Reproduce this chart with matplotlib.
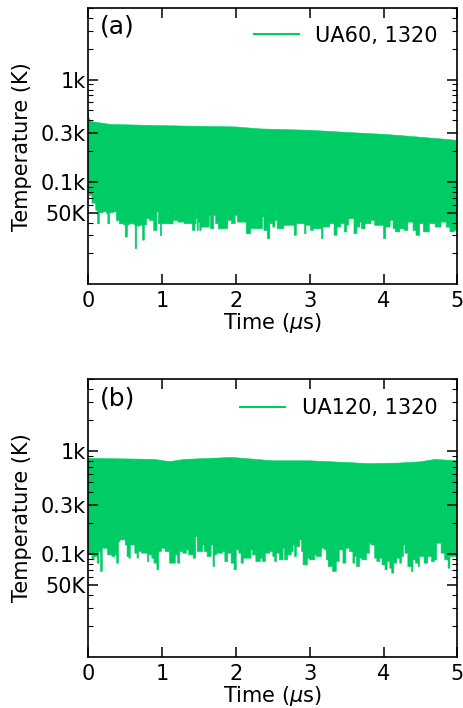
import numpy as np
import matplotlib
matplotlib.use("Agg")
import matplotlib.pyplot as plt
from matplotlib.lines import Line2D
from matplotlib.ticker import FixedLocator, LogLocator, NullFormatter

GREEN = "#00cc66"

# ---- Panel (a): UA60, 1320 ----
a_up_t = [0.0, 0.01, 0.03, 0.3, 1.0, 2.0, 2.33, 3.0, 3.5, 4.0, 4.23, 4.76, 5.0]
a_up_T = [480, 420, 390, 365, 355, 345, 330, 320, 305, 292, 284, 264, 255]
a_lo_t = [0.0, 0.014, 0.05, 0.10, 0.125, 0.15, 0.20, 0.25, 0.265, 0.29, 0.34, 0.38, 0.42,
          0.48, 0.50, 0.53, 0.555, 0.62, 0.635, 0.655, 0.69, 0.735, 0.76, 0.79, 0.83,
          0.885, 0.93, 0.95, 0.975, 0.995, 1.05, 1.15, 1.215, 1.30, 1.41, 1.445, 1.46,
          1.475, 1.49, 1.51, 1.53, 1.64, 1.655, 1.70, 1.725, 1.76, 1.89, 1.94, 1.99,
          2.02, 2.14, 2.20, 2.29, 2.36, 2.38, 2.425, 2.46, 2.50, 2.53, 2.56, 2.65, 2.79,
          2.82, 2.93, 2.95, 3.01, 3.05, 3.16, 3.18, 3.27, 3.33, 3.37, 3.42, 3.47, 3.50,
          3.53, 3.60, 3.64, 3.68, 3.70, 3.75, 3.83, 3.88, 4.00, 4.03, 4.09, 4.13, 4.16,
          4.22, 4.28, 4.33, 4.40, 4.44, 4.49, 4.54, 4.62, 4.70, 4.78, 4.85, 4.90, 4.96,
          5.0]
a_lo_T = [80, 74, 62, 53, 39, 50, 51, 49, 39, 50, 51, 42, 39,
          38, 29, 38, 39, 38, 22.3, 37, 37.7, 27, 38, 43.7, 42,
          33.6, 50.8, 39, 30, 39, 39, 42, 40.5, 39.1, 33.6, 39, 43.7,
          33.6, 40, 33.6, 36.2, 47.1, 34.9, 47.1, 39.1, 34.9, 42.1, 39.1, 47.1,
          40.5, 31.2, 35, 34.9, 45.4, 33.6, 27.9, 39.1, 36.2, 42.1, 34.9, 37.7, 30.1,
          39.1, 31.2, 37.7, 33.6, 34.9, 27.9, 36.2, 39.1, 30.1, 36.2, 39.1, 32.5, 38,
          43.7, 31.2, 36.2, 40.5, 34.9, 39.1, 42.1, 37.7, 27.9, 36.2, 42.1, 34.9, 32.5,
          34.9, 33.6, 40.5, 33.6, 30.1, 39.1, 32.5, 39.1, 36.2, 40.5, 36.2, 32.5, 33.6,
          33.6]

# ---- Panel (b): UA120, 1320 ----
b_up_t = [0.0, 0.5, 0.9, 1.1, 1.3, 1.95, 2.5, 3.0, 3.5, 3.8, 4.2, 4.5, 4.7, 5.0]
b_up_T = [849, 840, 830, 790, 830, 868, 805, 805, 775, 755, 765, 787, 830, 805]
b_lo_t = [0.0, 0.05, 0.08, 0.12, 0.145, 0.165, 0.19, 0.26, 0.32, 0.36, 0.385, 0.41, 0.43,
          0.50, 0.525, 0.55, 0.57, 0.63, 0.66, 0.68, 0.72, 0.80, 0.82, 0.86, 0.89, 0.93,
          0.955, 0.99, 1.04, 1.10, 1.18, 1.21, 1.24, 1.28, 1.33, 1.36, 1.42, 1.455,
          1.475, 1.55, 1.57, 1.61, 1.665, 1.69, 1.71, 1.74, 1.82, 1.85, 1.89, 1.935,
          1.975, 2.005, 2.04, 2.07, 2.10, 2.205, 2.225, 2.27, 2.33, 2.36, 2.40, 2.46,
          2.50, 2.525, 2.55, 2.59, 2.64, 2.66, 2.70, 2.75, 2.775, 2.795, 2.82, 2.865,
          2.89, 2.91, 2.97, 3.00, 3.07, 3.09, 3.16, 3.20, 3.225, 3.25, 3.31, 3.36, 3.40,
          3.45, 3.49, 3.54, 3.585, 3.61, 3.635, 3.675, 3.71, 3.77, 3.81, 3.83, 3.88,
          3.91, 3.95, 3.98, 4.02, 4.05, 4.085, 4.11, 4.14, 4.18, 4.22, 4.245, 4.27,
          4.29, 4.33, 4.38, 4.40, 4.43, 4.47, 4.49, 4.55, 4.60, 4.65, 4.69, 4.72, 4.78,
          4.83, 4.875, 4.90, 4.95, 5.0]
b_lo_T = [97.8, 87.5, 94.2, 81.2, 105.4, 67.4, 113.5, 97.8, 94.2, 97.8, 81.2, 131.7, 136.8,
          122, 94.2, 90.8, 122, 101.6, 90.8, 105.4, 101.6, 84.2, 97.8, 90.8, 81.2, 70,
          105.4, 113.5, 105.4, 81.2, 97.8, 81.2, 105.4, 101.6, 109.4, 97.8, 90.8, 147,
          105.4, 122, 105.4, 94.2, 122, 75.3, 97.8, 101.6, 105.4, 84.2, 101.6, 81.2,
          70, 109.4, 101.6, 81.2, 90.8, 109.4, 97.8, 84.2, 90.8, 84.2, 101.6, 105.4,
          94.2, 84.2, 101.6, 87.5, 113.5, 87.5, 97.8, 105.4, 122, 94.2, 117.7, 136.8,
          105.4, 78.2, 90.8, 87.5, 97.8, 94.2, 113.5, 109.4, 87.5, 75.3, 67.4, 84.2, 109.4,
          81.2, 113.5, 105.4, 81.2, 94.2, 75.3, 90.8, 87.5, 101.6, 127, 122, 90.8,
          84.2, 90.8, 78.2, 70, 84.2, 72.6, 65, 81.2, 90.8, 81.2, 94.2, 122,
          101.6, 75.3, 67.4, 87.5, 81.2, 75.3, 94.2, 81.2, 94.2, 84.2, 87.5, 127, 101.6,
          87.5, 72.6, 94.2, 94.2, 97.8]

labels = ["UA60, 1320", "UA120, 1320"]
panel_tags = ["(a)", "(b)"]
ytick_vals = [50, 100, 300, 1000]
ytick_labels = ["50K", "0.1k", "0.3k", "1k"]
xticks = [0, 1, 2, 3, 4, 5]

fig = plt.figure(figsize=(4.63, 7.08), dpi=100)
ax_a = fig.add_axes([0.1907, 0.5985, 0.797, 0.390])
ax_b = fig.add_axes([0.1907, 0.0725, 0.797, 0.3918])

def band(ax, up_t, up_T, lo_t, lo_T):
    lo_t = np.asarray(lo_t, float)
    lo_T = np.asarray(lo_T, float)
    st = np.repeat(lo_t, 2)[1:]
    sv = np.repeat(lo_T, 2)[:-1]
    xs = np.concatenate([up_t, st[::-1]])
    ys = np.concatenate([up_T, sv[::-1]])
    ax.fill(xs, ys, color=GREEN, lw=0.4, ec=GREEN)

legend_y = [0.900, 0.895]

for ax, (ut, uT, lt, lT), lab, tag, ly in zip(
        [ax_a, ax_b],
        [(a_up_t, a_up_T, a_lo_t, a_lo_T), (b_up_t, b_up_T, b_lo_t, b_lo_T)],
        labels, panel_tags, legend_y):
    band(ax, ut, uT, lt, lT)
    ax.set_yscale("log")
    ax.set_ylim(10, 5000)
    ax.set_xlim(0, 5)
    ax.yaxis.set_major_locator(FixedLocator(ytick_vals))
    ax.set_yticklabels(ytick_labels)
    ax.yaxis.set_minor_locator(LogLocator(base=10, subs=np.arange(2, 10)))
    ax.yaxis.set_minor_formatter(NullFormatter())
    ax.set_xticks(xticks)
    ax.tick_params(which="both", direction="in", top=True, right=True)
    ax.tick_params(which="major", length=7, width=1.1, labelsize=15)
    ax.tick_params(which="minor", length=3.5, width=0.8)
    ax.tick_params(axis="y", which="major", pad=2)
    ax.tick_params(axis="x", which="major", pad=5)
    for s in ax.spines.values():
        s.set_linewidth(1.2)
    ax.set_xlabel(r"Time ($\mu$s)", fontsize=15, labelpad=0)
    ax.set_ylabel("Temperature (K)", fontsize=15, labelpad=6)
    ax.text(0.032, 0.932, tag, transform=ax.transAxes, fontsize=18, va="center", ha="left")
    h = Line2D([], [], color=GREEN, lw=1.5)
    ax.legend([h], [lab], loc="center right", bbox_to_anchor=(0.968, ly),
              frameon=False, fontsize=15, handlelength=2.16, handletextpad=0.77,
              borderaxespad=0.0)

fig.savefig("out.png", dpi=100)
